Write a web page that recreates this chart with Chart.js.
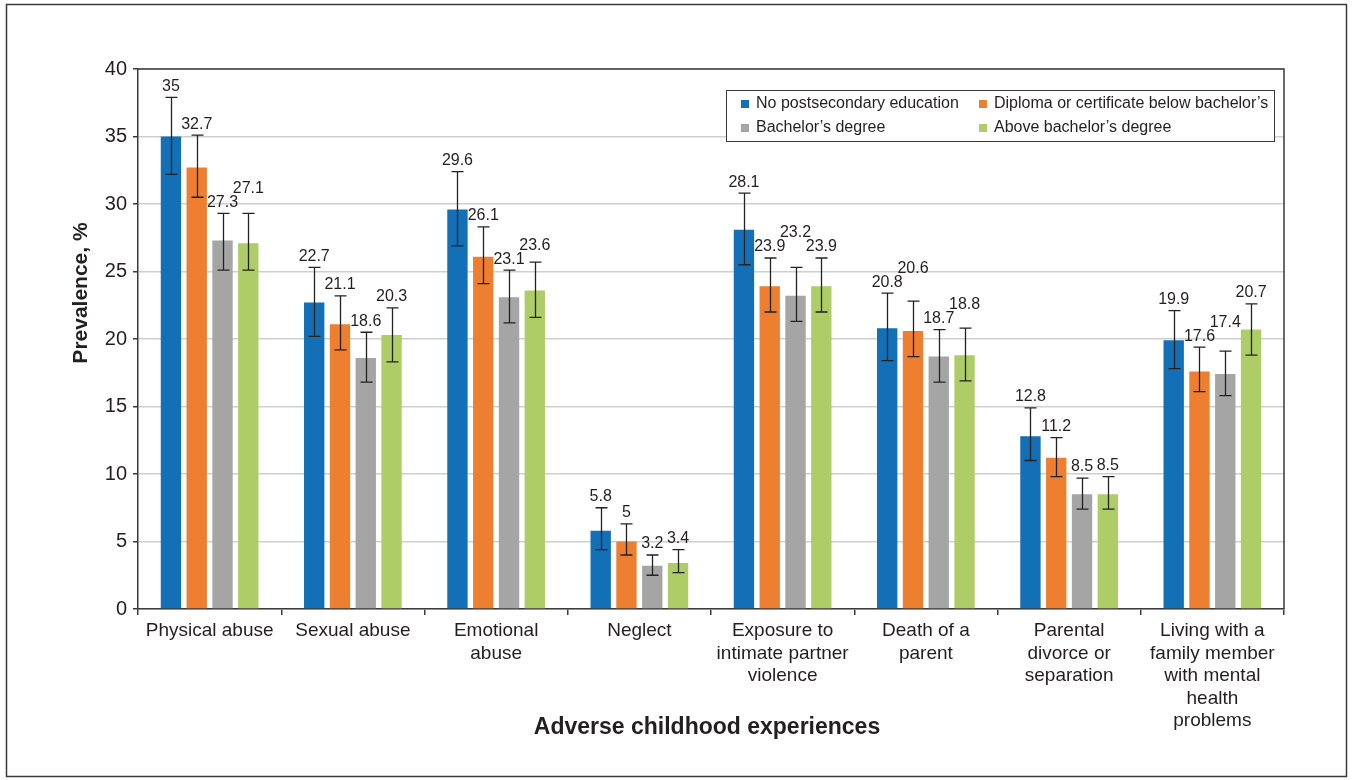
<!DOCTYPE html>
<html>
<head>
<meta charset="utf-8">
<title>Adverse childhood experiences by education</title>
<script src="https://cdn.jsdelivr.net/npm/chart.js@4.4.1/dist/chart.umd.min.js"></script>
<style>
    body { margin: 0; background: #fff; }
    #wrap { width: 1353px; height: 780px; position: relative; }
</style>
</head>
<body>
<div id="wrap"><canvas id="acesChart"></canvas></div>
<script>
// Categories (x axis), split in lines like the original
const categories = [
    ['Physical abuse'],
    ['Sexual abuse'],
    ['Emotional', 'abuse'],
    ['Neglect'],
    ['Exposure to', 'intimate partner', 'violence'],
    ['Death of a', 'parent'],
    ['Parental', 'divorce or', 'separation'],
    ['Living with a', 'family member', 'with mental', 'health', 'problems']
];

const seriesNames = [
    'No postsecondary education',
    'Diploma or certificate below bachelor\u2019s',
    'Bachelor\u2019s degree',
    'Above bachelor\u2019s degree'
];

// Prevalence, %
const noPostsecondary = [35, 22.7, 29.6, 5.8, 28.1, 20.8, 12.8, 19.9];
const diplomaBelow = [32.7, 21.1, 26.1, 5, 23.9, 20.6, 11.2, 17.6];
const bachelors = [27.3, 18.6, 23.1, 3.2, 23.2, 18.7, 8.5, 17.4];
const aboveBachelors = [27.1, 20.3, 23.6, 3.4, 23.9, 18.8, 8.5, 20.7];

// 95% CI, lower and upper
const noPostsecondaryLow = [32.2, 20.2, 26.9, 4.4, 25.5, 18.4, 11.0, 17.8];
const noPostsecondaryHigh = [37.9, 25.3, 32.4, 7.5, 30.8, 23.4, 14.9, 22.1];
const diplomaBelowLow = [30.5, 19.2, 24.1, 4.0, 22.0, 18.7, 9.8, 16.1];
const diplomaBelowHigh = [35.1, 23.2, 28.3, 6.3, 26.0, 22.8, 12.7, 19.4];
const bachelorsLow = [25.1, 16.8, 21.2, 2.5, 21.3, 16.8, 7.4, 15.8];
const bachelorsHigh = [29.3, 20.5, 25.1, 4.0, 25.3, 20.7, 9.7, 19.1];
const aboveBachelorsLow = [25.1, 18.3, 21.6, 2.7, 22.0, 16.9, 7.4, 18.8];
const aboveBachelorsHigh = [29.3, 22.3, 25.7, 4.4, 26.0, 20.8, 9.8, 22.6];

const yTicks = [0, 5, 10, 15, 20, 25, 30, 35, 40];

const colors = ['#136fb6', '#ee7f31', '#a5a5a5', '#aecd67'];
const FONT = '"Liberation Sans", Arial, Helvetica, sans-serif';
const TEXT = '#231f20';

const values = [noPostsecondary, diplomaBelow, bachelors, aboveBachelors];
const lows = [noPostsecondaryLow, diplomaBelowLow, bachelorsLow, aboveBachelorsLow];
const highs = [noPostsecondaryHigh, diplomaBelowHigh, bachelorsHigh, aboveBachelorsHigh];

// To draw the outer frame and the box round the plot
const framePlugin = {
    id: 'frame',
    beforeDraw(chart) {
        const ctx = chart.ctx;
        ctx.save();
        ctx.fillStyle = '#fff';
        ctx.fillRect(0, 0, chart.width, chart.height);
        ctx.strokeStyle = '#3a3a3a';
        ctx.lineWidth = 1.5;
        ctx.strokeRect(6.5, 4.5, 1340, 772);
        ctx.restore();
    },
    afterDatasetsDraw(chart) {
        const a = chart.chartArea;
        const ctx = chart.ctx;
        ctx.save();
        ctx.strokeStyle = '#3a3a3a';
        ctx.lineWidth = 1.5;
        ctx.beginPath();
        ctx.moveTo(a.left, a.top);
        ctx.lineTo(a.right, a.top);
        ctx.lineTo(a.right, a.bottom);
        ctx.stroke();
        ctx.restore();
    }
};

// To check if two label boxes overlap
function boxesOverlap(a, b) {
    return a.x1 < b.x2 && b.x1 < a.x2 && a.y1 < b.y2 && b.y1 < a.y2;
}

// To draw the error bars and the value labels above them
const errorBarPlugin = {
    id: 'errorBars',
    afterDatasetsDraw(chart) {
        const ctx = chart.ctx;
        const y = chart.scales.y;
        ctx.save();
        ctx.strokeStyle = '#222';
        ctx.lineWidth = 1.3;
        ctx.font = '16px ' + FONT;
        ctx.fillStyle = TEXT;
        ctx.textAlign = 'center';
        ctx.textBaseline = 'middle';

        // placed labels per category, to move a label up when it hits the one before
        const placed = categories.map(() => []);

        chart.data.datasets.forEach((ds, i) => {
            const meta = chart.getDatasetMeta(i);
            meta.data.forEach((bar, j) => {
                const x = Math.round(bar.x) + 0.5;
                const yLow = y.getPixelForValue(lows[i][j]);
                const yHigh = y.getPixelForValue(highs[i][j]);
                ctx.beginPath();
                ctx.moveTo(x, yLow);
                ctx.lineTo(x, yHigh);
                ctx.moveTo(x - 6, yLow);
                ctx.lineTo(x + 6, yLow);
                ctx.moveTo(x - 6, yHigh);
                ctx.lineTo(x + 6, yHigh);
                ctx.stroke();

                const text = String(ds.data[j]);
                const w = ctx.measureText(text).width;
                let ly = yHigh - 11;
                let box = { x1: bar.x - w / 2, x2: bar.x + w / 2, y1: ly - 7, y2: ly + 7 };
                placed[j].forEach(other => {
                    if (boxesOverlap(box, other)) {
                        ly = other.y1 - 7;
                        box = { x1: box.x1, x2: box.x2, y1: ly - 7, y2: ly + 7 };
                    }
                });
                placed[j].push(box);
                ctx.fillText(text, bar.x, ly);
            });
        });
        ctx.restore();
    }
};

// To draw the legend box inside the plot and the axis titles
const legendPlugin = {
    id: 'boxLegend',
    afterDraw(chart) {
        const ctx = chart.ctx;
        const a = chart.chartArea;
        ctx.save();
        // legend box
        ctx.fillStyle = '#fff';
        ctx.fillRect(726, 90, 548, 51);
        ctx.strokeStyle = '#3a3a3a';
        ctx.lineWidth = 1;
        ctx.strokeRect(726.5, 90.5, 548, 51);
        ctx.font = '16px ' + FONT;
        ctx.textAlign = 'left';
        ctx.textBaseline = 'middle';
        const cols = [741, 979];
        const rows = [104, 128];
        seriesNames.forEach((name, i) => {
            const cx = cols[i % 2];
            const cy = rows[Math.floor(i / 2)];
            ctx.fillStyle = colors[i];
            ctx.fillRect(cx, cy - 4, 8, 8);
            ctx.fillStyle = TEXT;
            ctx.fillText(name, cx + 15, cy);
        });

        // axis titles
        ctx.fillStyle = TEXT;
        ctx.font = 'bold 23px ' + FONT;
        ctx.textAlign = 'center';
        ctx.fillText('Adverse childhood experiences', (a.left + a.right) / 2 - 4, 728);
        ctx.font = 'bold 21px ' + FONT;
        ctx.translate(81, (a.top + a.bottom) / 2 - 46);
        ctx.rotate(-Math.PI / 2);
        ctx.fillText('Prevalence, %', 0, 0);
        ctx.restore();
    }
};

function buildChart() {
    const datasets = seriesNames.map((name, i) => ({
        label: name,
        data: values[i],
        backgroundColor: colors[i],
        borderWidth: 0,
        categoryPercentage: 0.72,
        barPercentage: 0.79
    }));

    const ctx = document.getElementById('acesChart').getContext('2d');
    return new Chart(ctx, {
        type: 'bar',
        data: { labels: categories, datasets: datasets },
        plugins: [framePlugin, errorBarPlugin, legendPlugin],
        options: {
            responsive: true,
            maintainAspectRatio: false,
            animation: false,
            layout: { padding: { top: 69, right: 69, bottom: 0, left: 0 } },
            plugins: {
                legend: { display: false },
                tooltip: { enabled: false }
            },
            scales: {
                x: {
                    offset: true,
                    afterFit(scale) { scale.height = 171; },
                    grid: {
                        display: true,
                        offset: true,
                        drawOnChartArea: false,
                        drawTicks: true,
                        tickLength: 6,
                        color: '#3a3a3a',
                        lineWidth: 1.5
                    },
                    border: { color: '#3a3a3a', width: 1.5 },
                    ticks: {
                        color: TEXT,
                        font: { family: FONT, size: 19, lineHeight: 1.18 },
                        padding: 5,
                        maxRotation: 0,
                        autoSkip: false
                    }
                },
                y: {
                    min: 0,
                    max: 40,
                    afterFit(scale) { scale.width = 138; },
                    afterBuildTicks(scale) {
                        scale.ticks = yTicks.map(v => ({ value: v }));
                    },
                    grid: {
                        color: '#cfcfcf',
                        lineWidth: 1.5,
                        tickLength: 5,
                        tickColor: '#3a3a3a'
                    },
                    border: { color: '#3a3a3a', width: 1.5 },
                    ticks: {
                        color: TEXT,
                        font: { family: FONT, size: 20 },
                        padding: 6
                    }
                }
            }
        }
    });
}

buildChart();
</script>
</body>
</html>
